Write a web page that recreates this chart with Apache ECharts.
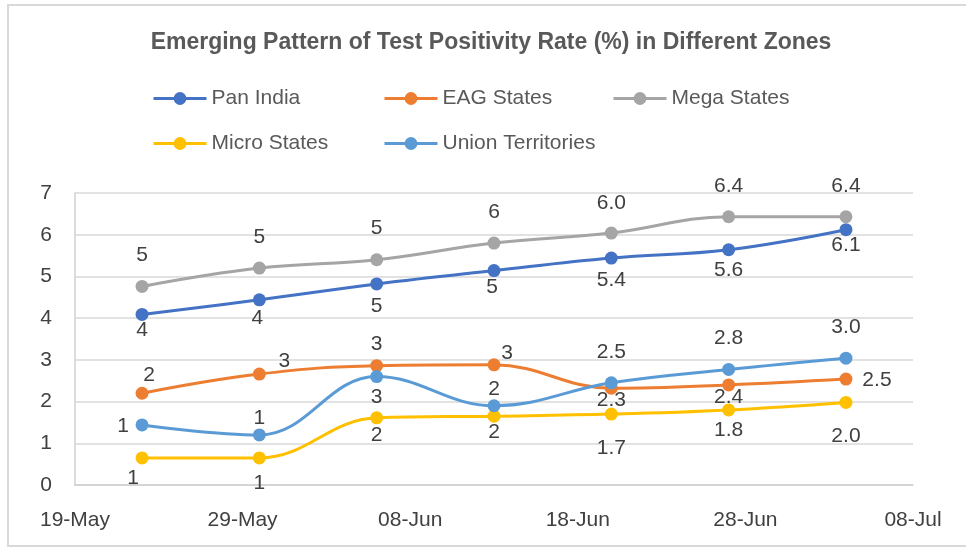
<!DOCTYPE html>
<html>
<head>
<meta charset="utf-8">
<script src="https://cdn.jsdelivr.net/npm/echarts@6/dist/echarts.min.js"></script>
<style>
  html, body { margin: 0; padding: 0; background: #fff; }
  #chart { width: 966px; height: 547px; }
</style>
</head>
<body>
<div id="chart"></div>
<script>
// week dates of each reading
const dates = ["2021-05-23", "2021-05-30", "2021-06-06", "2021-06-13", "2021-06-20", "2021-06-27", "2021-07-04"];
const startDate = "2021-05-19";
const endDate = "2021-07-08";

// test positivity rate (%)
const panIndia = [4.09, 4.44, 4.82, 5.14, 5.44, 5.64, 6.12];
const eagStates = [2.2, 2.66, 2.86, 2.88, 2.32, 2.4, 2.54];
const megaStates = [4.76, 5.2, 5.4, 5.8, 6.04, 6.43, 6.43];
const microStates = [0.65, 0.65, 1.61, 1.65, 1.7, 1.8, 1.98];
const unionTerritories = [1.44, 1.2, 2.6, 1.9, 2.45, 2.77, 3.04];

// label number format (decimals shown per week)
const labelDecimals = [0, 0, 0, 0, 1, 1, 1];

const yTicks = [0, 1, 2, 3, 4, 5, 6, 7];
const months = ["Jan", "Feb", "Mar", "Apr", "May", "Jun", "Jul", "Aug", "Sep", "Oct", "Nov", "Dec"];

const DAY = 86400000;
const t0 = Date.parse(startDate);
function dayOf(s) { return Math.round((Date.parse(s) - t0) / DAY); }
function fmtDay(d) {
  const dt = new Date(t0 + d * DAY);
  const dd = String(dt.getUTCDate()).padStart(2, "0");
  return dd + "-" + months[dt.getUTCMonth()];
}

const FONT = "'Liberation Sans', Arial, sans-serif";
const FS = 21;

// label offsets relative to the marker centre (Excel placed them by hand)
const labelOffsets = {
  "Pan India": [[0, 16], [-2, 18], [0, 22], [-2, 17], [0, 22], [0, 20], [0, 15]],
  "EAG States": [[7, -18], [25, -13], [0, -21], [13, -12], [0, 12], [0, 12], [31, 1]],
  "Mega States": [[0, -31], [0, -31], [0, -32], [0, -31], [0, -30], [0, -31], [0, -31]],
  "Micro States": [[-9, 20], [0, 25], [0, 17], [0, 16], [0, 34], [0, 20], [0, 34]],
  "Union Territories": [[-19, 1], [0, -17], [0, 21], [0, -17], [0, -31], [0, -31], [0, -31]]
};

const seriesDefs = [
  { name: "Pan India", values: panIndia, color: "#4472C4" },
  { name: "EAG States", values: eagStates, color: "#ED7D31" },
  { name: "Mega States", values: megaStates, color: "#A5A5A5" },
  { name: "Micro States", values: microStates, color: "#FFC000" },
  { name: "Union Territories", values: unionTerritories, color: "#5B9BD5" }
];

const series = seriesDefs.map(s => ({
  name: s.name,
  type: "line",
  smooth: 0.4,
  symbol: "circle",
  symbolSize: 13,
  color: s.color,
  lineStyle: { width: 3, color: s.color },
  itemStyle: { color: s.color },
  data: s.values.map((v, i) => ({
    value: [dayOf(dates[i]), v],
    label: {
      show: true,
      position: "inside",
      offset: labelOffsets[s.name][i],
      formatter: () => v.toFixed(labelDecimals[i]),
      color: "#404040",
      fontSize: FS,
      fontFamily: FONT
    }
  }))
}));

// legend slots as laid out in the original (two rows)
const legendSlots = [[152, 88], [383, 88], [612, 88], [152, 133], [383, 133]];
const legends = seriesDefs.map((s, i) => ({
  data: [s.name],
  left: legendSlots[i][0],
  top: legendSlots[i][1],
  padding: 0,
  itemWidth: 53,
  itemHeight: 16,
  itemGap: 6,
  lineStyle: { width: 3 },
  textStyle: { color: "#595959", fontSize: FS, fontFamily: FONT }
}));

const option = {
  animation: false,
  backgroundColor: "#fff",
  title: {
    text: "Emerging Pattern of Test Positivity Rate (%) in Different Zones",
    left: 486,
    textAlign: "center",
    top: 26,
    textStyle: { color: "#595959", fontSize: 23, fontWeight: "bold", fontFamily: FONT }
  },
  legend: legends,
  grid: { left: 75, right: 53, top: 193, bottom: 62 },
  xAxis: {
    type: "value",
    min: 0,
    max: dayOf(endDate),
    interval: 10,
    axisLine: { show: true, lineStyle: { color: "#D0D0D0", width: 1.5 } },
    axisTick: { show: false },
    splitLine: { show: false },
    axisLabel: {
      margin: 25,
      color: "#404040",
      fontSize: FS,
      fontFamily: FONT,
      formatter: v => fmtDay(v)
    }
  },
  yAxis: {
    type: "value",
    min: yTicks[0],
    max: yTicks[yTicks.length - 1],
    interval: 1,
    axisLine: { show: true, lineStyle: { color: "#D0D0D0", width: 1.5 } },
    axisTick: { show: false },
    splitLine: { show: true, lineStyle: { color: "#D9D9D9", width: 1.5 } },
    axisLabel: { margin: 23, color: "#404040", fontSize: FS, fontFamily: FONT }
  },
  graphic: [{
    type: "rect",
    shape: { x: 8, y: 5, width: 975, height: 541 },
    style: { fill: null, stroke: "#D9D9D9", lineWidth: 2 },
    silent: true,
    z: -1
  }],
  series: series
};

const chart = echarts.init(document.getElementById("chart"));
chart.setOption(option);
</script>
</body>
</html>
